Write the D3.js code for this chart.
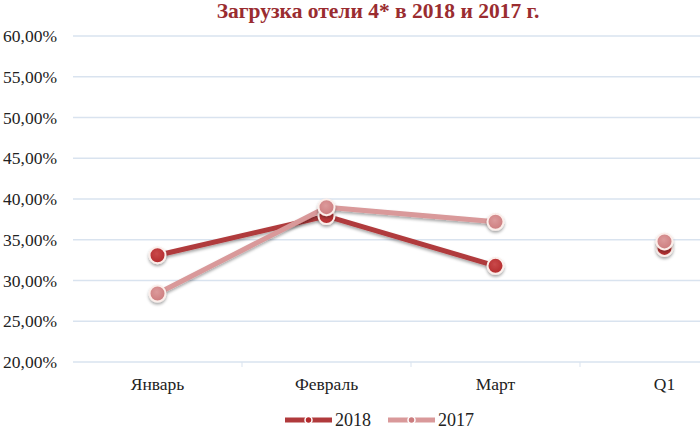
<!doctype html>
<html lang="ru">
<head>
<meta charset="UTF-8">
<title>Загрузка отели 4*</title>
<script src="https://d3js.org/d3.v7.min.js"></script>
<style>
  body { margin: 0; background: #fff; }
  svg { display: block; font-family: "Liberation Serif", "Times New Roman", serif; }
</style>
</head>
<body>
<div id="chart"></div>
<script>
// chart data
const categories = ["Январь", "Февраль", "Март", "Q1"];
const lineCategories = ["Январь", "Февраль", "Март"]; // Q1 is shown as a point only
const values2018 = [33.1, 37.9, 31.8, 34.0];
const values2017 = [28.4, 39.0, 37.2, 34.8];
const yTicks = [20, 25, 30, 35, 40, 45, 50, 55, 60];
const seriesNames = ["2018", "2017"];

const width = 700, height = 431;
const margin = {top: 36, left: 73, bottom: 69};

const svg = d3.select("#chart").append("svg")
    .attr("width", width)
    .attr("height", height);

const defs = svg.append("defs");
const shadow = defs.append("filter").attr("id", "shadow")
    .attr("x", "-50%").attr("y", "-50%").attr("width", "200%").attr("height", "200%");
shadow.append("feDropShadow")
    .attr("dx", 0).attr("dy", 2).attr("stdDeviation", 1.6)
    .attr("flood-color", "#000").attr("flood-opacity", 0.35);

// x scale: 4 bands, last band runs past the right edge like in the original
const x = d3.scaleBand()
    .domain(categories)
    .range([margin.left, margin.left + 4 * 169]);

const y = d3.scaleLinear()
    .domain([20, 60])
    .range([height - margin.bottom, margin.top]);

//title
svg.append("text")
    .attr("x", 378).attr("y", 18)
    .attr("text-anchor", "middle")
    .attr("font-size", 21.5)
    .attr("font-weight", "bold")
    .attr("fill", "#9a2c30")
    .text("Загрузка отели 4* в 2018 и 2017 г.");

//grid lines
svg.append("g").selectAll("line")
    .data(yTicks)
    .join("line")
    .attr("x1", margin.left).attr("x2", width)
    .attr("y1", d => y(d)).attr("y2", d => y(d))
    .attr("stroke", "#d9e3ef")
    .attr("stroke-width", 1.3);

//y labels
svg.append("g").selectAll("text")
    .data(yTicks)
    .join("text")
    .attr("x", 57)
    .attr("y", d => y(d) + 6)
    .attr("text-anchor", "end")
    .attr("font-size", 17.5)
    .attr("fill", "#222")
    .text(d => d3.format(".2f")(d).replace(".", ",") + "%");

//x axis ticks between categories
svg.append("g").selectAll("line")
    .data(categories.slice(1))
    .join("line")
    .attr("x1", d => x(d)).attr("x2", d => x(d))
    .attr("y1", y(20)).attr("y2", y(20) + 5)
    .attr("stroke", "#d9e3ef");

//x labels
svg.append("g").selectAll("text")
    .data(categories)
    .join("text")
    .attr("x", d => x(d) + x.bandwidth() / 2)
    .attr("y", 390)
    .attr("text-anchor", "middle")
    .attr("font-size", 17.5)
    .attr("fill", "#222")
    .text(d => d);

const series = [
    {name: seriesNames[0], values: values2018, line: "#b03a3c", dot: "#b32a2c", dot2: "#c9494a"},
    {name: seriesNames[1], values: values2017, line: "#d9999a", dot: "#cc7c7e", dot2: "#dc9a9b"}
];

const cx = c => x(c) + x.bandwidth() / 2;

const line = d3.line()
    .x(d => cx(d.c))
    .y(d => y(d.v));

//lines first, markers on top
series.forEach((s, si) => {
    const pts = categories.map((c, i) => ({c: c, v: s.values[i]}));
    svg.append("path")
        .datum(pts.filter(p => lineCategories.includes(p.c)))
        .attr("d", line)
        .attr("fill", "none")
        .attr("stroke", s.line)
        .attr("stroke-width", 5)
        .attr("stroke-linejoin", "round")
        .attr("filter", "url(#shadow)");
});

series.forEach((s, si) => {
    const grad = defs.append("radialGradient").attr("id", "g" + si)
        .attr("cx", "45%").attr("cy", "40%").attr("r", "60%");
    grad.append("stop").attr("offset", "0%").attr("stop-color", s.dot2);
    grad.append("stop").attr("offset", "100%").attr("stop-color", s.dot);

    const pts = categories.map((c, i) => ({c: c, v: s.values[i]}));
    svg.append("g").selectAll("circle")
        .data(pts)
        .join("circle")
        .attr("cx", d => cx(d.c))
        .attr("cy", d => y(d.v))
        .attr("r", 8)
        .attr("fill", "url(#g" + si + ")")
        .attr("stroke", "#fbeeea")
        .attr("stroke-width", 2)
        .attr("filter", "url(#shadow)");
});

//legend
const legend = svg.append("g");
const legendX = [285, 388];
series.forEach((s, i) => {
    const lg = legend.append("g").attr("transform", "translate(" + legendX[i] + ",420)");
    lg.append("line")
        .attr("x1", 0).attr("x2", 47)
        .attr("stroke", s.line).attr("stroke-width", 5);
    lg.append("circle")
        .attr("cx", 23.5).attr("r", 3.5)
        .attr("fill", s.dot)
        .attr("stroke", "#fff").attr("stroke-width", 1.5);
    lg.append("text")
        .attr("x", 50).attr("y", 6)
        .attr("font-size", 18)
        .attr("fill", "#222")
        .text(s.name);
});
</script>
</body>
</html>
